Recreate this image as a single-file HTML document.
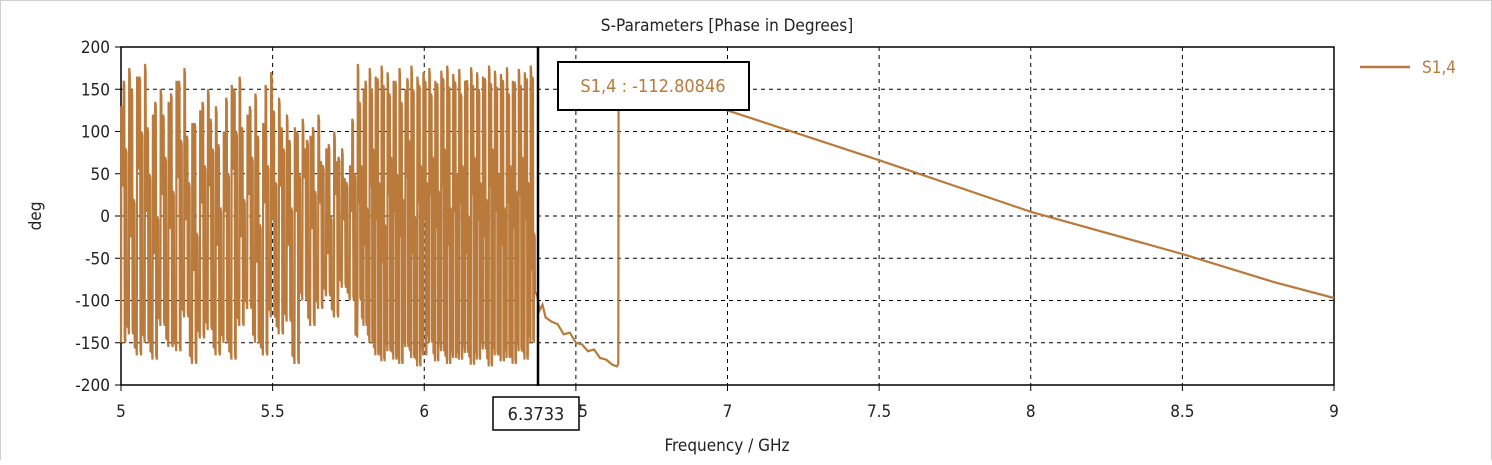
<!DOCTYPE html>
<html><head><meta charset="utf-8"><style>
html,body{margin:0;padding:0;background:#fff;}
body{width:1492px;height:460px;overflow:hidden;font-family:"Liberation Sans",sans-serif;}
text{font-family:"DejaVu Sans Condensed","Liberation Sans",sans-serif;}
</style></head><body>
<svg id="chart" width="1492" height="460" xmlns="http://www.w3.org/2000/svg">
<rect x="0.5" y="0.5" width="1491" height="470" fill="none" stroke="#cfcfcf"/>
<text x="727" y="31" text-anchor="middle" font-size="17" fill="#222">S-Parameters [Phase in Degrees]</text>
<g id="grid"></g>
<g id="axes"></g>
<g id="series"></g>
<text x="727" y="451" text-anchor="middle" font-size="17" fill="#222">Frequency / GHz</text>
<text transform="translate(41,216) rotate(-90)" text-anchor="middle" font-size="17" fill="#222">deg</text>
<line x1="1360" y1="67" x2="1410" y2="67" stroke="#b97a3c" stroke-width="2.5"/>
<text x="1422" y="73" font-size="17" fill="#b97a3c">S1,4</text>
<line x1="538" y1="47" x2="538" y2="386" stroke="#000" stroke-width="2.5"/>
<rect x="558" y="62" width="191" height="48" fill="#fff" stroke="#000" stroke-width="2"/>
<text x="653" y="92" text-anchor="middle" font-size="18" fill="#b97a3c">S1,4 : -112.80846</text>
<rect x="493" y="397" width="86" height="33" fill="#fff" stroke="#000" stroke-width="1.5"/>
<text x="536" y="420" text-anchor="middle" font-size="18" fill="#222">6.3733</text>
</svg>
<script>
const xTicks=[5,5.5,6,6.5,7,7.5,8,8.5,9];
const yTicks=[200,150,100,50,0,-50,-100,-150,-200];
const hi1=[130,175,165,180,120,150,135,160,175,110,125,150,130,100,155,165,120,145,110,170,140,120,105,115,95,120,80,100,80,60];
const lo1=[-150,-140,-165,-150,-170,-130,-155,-160,-120,-175,-145,-135,-165,-150,-170,-130,-110,-150,-165,-120,-140,-125,-175,-100,-130,-110,-95,-120,-85,-100];
const mid1=[40,-20,60,10,-40,30,-10,50,0,-60,20,40,-30,10,60,-20,30,-50,20,0,40,-30,10,50,-10,20,-40,30,0,10];
const hi2=[180,150,175,165,178,170,160,175,150,178,165,170,175,160,172,178,168,174,160,176,170,165,178,172,168,176,160,174,170,178];
const lo2=[-100,-130,-150,-165,-172,-160,-170,-175,-155,-168,-178,-165,-150,-172,-160,-175,-168,-170,-162,-176,-170,-158,-178,-165,-172,-168,-175,-160,-170,-150];
const mid2=[20,-30,40,0,-50,30,10,-20,50,-40,20,0,30,-10,40,-30,10,20,-40,30,0,-20,40,10,-30,20,-10,30,0,-60];
const tailF=[6.373,6.38,6.39,6.40,6.42,6.44,6.46,6.48,6.50,6.52,6.54,6.56,6.58,6.60,6.62,6.635,6.64,6.641,6.70,6.80,6.90,7.0,7.5,8.0,8.5,8.8,9.0];
const tailV=[-95,-112,-105,-120,-125,-128,-140,-138,-150,-152,-160,-158,-168,-170,-176,-178,-175,165,158,147,136,125,66,5,-45,-78,-97];
const F0=5,F1=9,V0=-200,V1=200,L=121,R=1334,T=47,B=385;
const sx=f=>L+(f-F0)/(F1-F0)*(R-L);
const sy=v=>B-(v-V0)/(V1-V0)*(B-T);
const NS='http://www.w3.org/2000/svg';
function mk(tag,attrs,parent){const e=document.createElementNS(NS,tag);for(const k in attrs)e.setAttribute(k,attrs[k]);parent.appendChild(e);return e;}
const grid=document.getElementById('grid'),axes=document.getElementById('axes'),series=document.getElementById('series');
xTicks.forEach((t,i)=>{
 if(i>0&&i<xTicks.length-1){const l=mk('line',{x1:sx(t),x2:sx(t),y1:T,y2:B,stroke:'#000','stroke-dasharray':'4,4','stroke-width':1},grid);
 
 }
 const tk=mk('line',{x1:sx(t),x2:sx(t),y1:B,y2:B+6,stroke:'#000'},axes);
 
 
 const tx=mk('text',{x:sx(t),y:417,'text-anchor':'middle','font-size':17,fill:'#222'},axes);
 tx.textContent=String(t);
 
 
});
yTicks.forEach((t,i)=>{
 if(i>0&&i<yTicks.length-1){const l=mk('line',{x1:L,x2:R,y1:sy(t),y2:sy(t),stroke:'#000','stroke-dasharray':'4,4','stroke-width':1},grid);
 
 }
 const tk=mk('line',{x1:L-6,x2:L,y1:sy(t),y2:sy(t),stroke:'#000'},axes);
 
 
 const tx=mk('text',{x:110,y:sy(t)+6,'text-anchor':'end','font-size':17,fill:'#222'},axes);
 tx.textContent=String(t);
 
 
});
const fr=mk('rect',{x:L,y:T,width:R-L,height:B-T,fill:'none',stroke:'#000','stroke-width':1.5},axes);


let pts=[];
function cyc(hi,lo,mid,fa,fb){const n=hi.length,d=(fb-fa)/n;
 for(let i=0;i<n;i++){const f=fa+i*d;
  pts.push([f,lo[i]]);pts.push([f+d*0.04,hi[i]]);pts.push([f+d*0.12,hi[i]-8]);
  pts.push([f+d*0.16,mid[i]]);pts.push([f+d*0.30,mid[i]-5]);
  pts.push([f+d*0.34,hi[(i+1)%n]-15]);pts.push([f+d*0.42,hi[(i+1)%n]-20]);
  pts.push([f+d*0.47,lo[i]+5]);pts.push([f+d*0.55,lo[i]]);
  pts.push([f+d*0.59,mid[i]+40]);pts.push([f+d*0.70,mid[i]+35]);
  pts.push([f+d*0.74,lo[(i+1)%n]+10]);pts.push([f+d*0.96,lo[(i+1)%n]+8]);}}
cyc(hi1,lo1,mid1,5.0,5.78);
cyc(hi2,lo2,mid2,5.78,6.37);
tailF.forEach((f,i)=>pts.push([f,tailV[i]]));
const p=mk('polyline',{points:pts.map(q=>sx(q[0]).toFixed(1)+','+sy(q[1]).toFixed(1)).join(' '),fill:'none',stroke:'#b97a3c','stroke-width':2.2,'stroke-linejoin':'miter'},series);


</script>
</body></html>
